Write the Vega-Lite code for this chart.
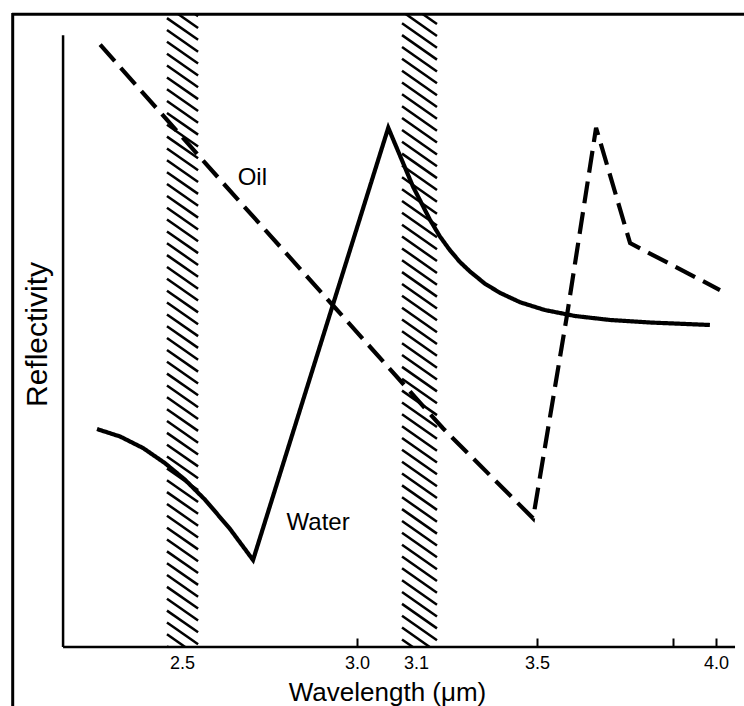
{
  "$schema": "https://vega.github.io/schema/vega-lite/v6.json",
  "width": 732,
  "height": 634,
  "autosize": {"type": "none"},
  "padding": {"left": 12, "top": 13, "right": 0, "bottom": 59},
  "background": "white",
  "config": {"view": {"stroke": null}, "font": "Liberation Sans"},
  "datasets": {
    "curves": [
      {"series": "Water", "wl": 2.257, "r": 34.38},
      {"series": "Water", "wl": 2.323, "r": 33.20},
      {"series": "Water", "wl": 2.389, "r": 31.37},
      {"series": "Water", "wl": 2.451, "r": 29.01},
      {"series": "Water", "wl": 2.509, "r": 26.36},
      {"series": "Water", "wl": 2.566, "r": 23.22},
      {"series": "Water", "wl": 2.637, "r": 18.63},
      {"series": "Water", "wl": 2.703, "r": 13.72},
      {"series": "Water", "wl": 3.053, "r": 81.9},
      {"series": "Water", "wl": 3.095, "r": 72.6},
      {"series": "Water", "wl": 3.146, "r": 67.4},
      {"series": "Water", "wl": 3.179, "r": 64.76},
      {"series": "Water", "wl": 3.212, "r": 62.59},
      {"series": "Water", "wl": 3.245, "r": 60.74},
      {"series": "Water", "wl": 3.279, "r": 59.20},
      {"series": "Water", "wl": 3.328, "r": 57.30},
      {"series": "Water", "wl": 3.378, "r": 55.85},
      {"series": "Water", "wl": 3.444, "r": 54.38},
      {"series": "Water", "wl": 3.522, "r": 53.15},
      {"series": "Water", "wl": 3.606, "r": 52.21},
      {"series": "Water", "wl": 3.704, "r": 51.58},
      {"series": "Water", "wl": 3.816, "r": 51.18},
      {"series": "Water", "wl": 3.983, "r": 50.79},
      {"series": "Oil", "wl": 2.266, "r": 95.0},
      {"series": "Oil", "wl": 2.617, "r": 73.2},
      {"series": "Oil", "wl": 2.931, "r": 53.9},
      {"series": "Oil", "wl": 3.189, "r": 34.5},
      {"series": "Oil", "wl": 3.487, "r": 20.3},
      {"series": "Oil", "wl": 3.584, "r": 52.4},
      {"series": "Oil", "wl": 3.665, "r": 81.9},
      {"series": "Oil", "wl": 3.760, "r": 63.7},
      {"series": "Oil", "wl": 4.011, "r": 56.3}
    ],
    "labels": [
      {"text": "Oil", "wl": 2.701, "r": 74.0},
      {"text": "Water", "wl": 2.889, "r": 19.6}
    ],
    "one": [{}],
    "hatchA": [
      {"r": 102.93}, {"r": 101.06}, {"r": 99.19}, {"r": 97.32}, {"r": 95.45}, {"r": 93.58}, {"r": 91.71}, {"r": 89.84},
      {"r": 87.98}, {"r": 86.11}, {"r": 84.24}, {"r": 82.37}, {"r": 80.50}, {"r": 78.63}, {"r": 76.76}, {"r": 74.89},
      {"r": 73.02}, {"r": 71.15}, {"r": 69.29}, {"r": 67.42}, {"r": 65.55}, {"r": 63.68}, {"r": 61.81}, {"r": 59.94},
      {"r": 58.07}, {"r": 56.20}, {"r": 54.33}, {"r": 52.46}, {"r": 50.60}, {"r": 48.73}, {"r": 46.86}, {"r": 44.99},
      {"r": 43.12}, {"r": 41.25}, {"r": 39.38}, {"r": 37.51}, {"r": 35.64}, {"r": 33.77}, {"r": 31.91}, {"r": 30.04},
      {"r": 28.17}, {"r": 26.30}, {"r": 24.43}, {"r": 22.56}, {"r": 20.69}, {"r": 18.82}, {"r": 16.95}, {"r": 15.08},
      {"r": 13.22}, {"r": 11.35}, {"r": 9.48}, {"r": 7.61}, {"r": 5.74}, {"r": 3.87}, {"r": 2.00}, {"r": 0.13}
    ],
    "hatchB": [
      {"r": 102.12}, {"r": 100.25}, {"r": 98.38}, {"r": 96.51}, {"r": 94.64}, {"r": 92.77}, {"r": 90.90}, {"r": 89.04},
      {"r": 87.17}, {"r": 85.30}, {"r": 83.43}, {"r": 81.56}, {"r": 79.69}, {"r": 77.82}, {"r": 75.95}, {"r": 74.08},
      {"r": 72.21}, {"r": 70.35}, {"r": 68.48}, {"r": 66.61}, {"r": 64.74}, {"r": 62.87}, {"r": 61.00}, {"r": 59.13},
      {"r": 57.26}, {"r": 55.39}, {"r": 53.52}, {"r": 51.66}, {"r": 49.79}, {"r": 47.92}, {"r": 46.05}, {"r": 44.18},
      {"r": 42.31}, {"r": 40.44}, {"r": 38.57}, {"r": 36.70}, {"r": 34.83}, {"r": 32.97}, {"r": 31.10}, {"r": 29.23},
      {"r": 27.36}, {"r": 25.49}, {"r": 23.62}, {"r": 21.75}, {"r": 19.88}, {"r": 18.01}, {"r": 16.14}, {"r": 14.28},
      {"r": 12.41}, {"r": 10.54}, {"r": 8.67}, {"r": 6.80}, {"r": 4.93}, {"r": 3.06}, {"r": 1.19}
    ]
  },
  "layer": [
    {
      "data": {"name": "curves"},
      "mark": {"type": "line", "color": "black", "strokeWidth": 4.2, "strokeCap": "butt", "strokeJoin": "miter"},
      "encoding": {
        "x": {
          "field": "wl",
          "type": "quantitative",
          "scale": {"domain": [2.014, 2.5, 3.0, 3.1, 3.5, 4.0, 4.078], "range": [0, 170, 345, 404, 525, 704, 732], "nice": false, "zero": false},
          "axis": {
            "orient": "bottom",
            "domain": false,
            "grid": false,
            "values": [2.5, 3.0, 3.1, 3.5, 3.88, 4.0],
            "format": ".1f",
            "labelExpr": "datum.value == 3.88 ? '' : datum.label",
            "tickSize": -9,
            "tickWidth": 2,
            "tickColor": "black",
            "tickOpacity": {"condition": {"test": "datum.value == 2.5 || datum.value == 3.1", "value": 0}, "value": 1},
            "labelFont": "Liberation Sans",
            "labelFontSize": 18,
            "labelColor": "black",
            "labelPadding": 16,
            "labelOverlap": false,
            "title": "Wavelength (μm)",
            "titleFont": "Liberation Sans",
            "titleFontSize": 26,
            "titleFontWeight": "normal",
            "titleColor": "black",
            "titleX": 375,
            "titleY": 53,
            "titleBaseline": "alphabetic"
          }
        },
        "y": {
          "field": "r",
          "type": "quantitative",
          "scale": {"domain": [0, 100], "nice": false, "zero": false},
          "axis": {
            "domain": false,
            "ticks": false,
            "labels": false,
            "grid": false,
            "title": "Reflectivity",
            "titleFont": "Liberation Sans",
            "titleFontSize": 30,
            "titleFontWeight": "normal",
            "titleColor": "black",
            "titleX": 34,
            "titleY": 321,
            "titleAngle": 270,
            "titleBaseline": "alphabetic"
          }
        },
        "strokeDash": {
          "field": "series",
          "type": "nominal",
          "scale": {"domain": ["Water", "Oil"], "range": [[1, 0], [22, 9]]},
          "legend": null
        }
      }
    },
    {
      "data": {"name": "hatchA"},
      "mark": {"type": "rule", "color": "black", "strokeWidth": 2.5, "clip": true, "y2Offset": 21.7},
      "encoding": {
        "x": {"datum": 2.457},
        "x2": {"datum": 2.546},
        "y": {"field": "r", "type": "quantitative"},
        "y2": {"field": "r"}
      }
    },
    {
      "data": {"name": "hatchB"},
      "mark": {"type": "rule", "color": "black", "strokeWidth": 2.5, "clip": true, "y2Offset": 24.5},
      "encoding": {
        "x": {"datum": 3.0763},
        "x2": {"datum": 3.1694},
        "y": {"field": "r", "type": "quantitative"},
        "y2": {"field": "r"}
      }
    },
    {
      "data": {"name": "one"},
      "mark": {"type": "rule", "color": "black", "strokeWidth": 3},
      "encoding": {
        "x": {"datum": 2.016},
        "y": {"datum": -9.3},
        "y2": {"datum": 100}
      }
    },
    {
      "data": {"name": "one"},
      "mark": {"type": "rule", "color": "black", "strokeWidth": 3},
      "encoding": {
        "x": {"datum": 2.014},
        "x2": {"datum": 4.078},
        "y": {"datum": 99.8}
      }
    },
    {
      "data": {"name": "one"},
      "mark": {"type": "rule", "color": "black", "strokeWidth": 2.5},
      "encoding": {
        "x": {"datum": 2.16},
        "y": {"datum": 0},
        "y2": {"datum": 96.5}
      }
    },
    {
      "data": {"name": "one"},
      "mark": {"type": "rule", "color": "black", "strokeWidth": 2.5},
      "encoding": {
        "x": {"datum": 2.16},
        "x2": {"datum": 4.053},
        "y": {"datum": 0}
      }
    },
    {
      "data": {"name": "labels"},
      "mark": {"type": "text", "color": "black", "font": "Liberation Sans", "fontSize": 24, "align": "center", "baseline": "middle"},
      "encoding": {
        "x": {"field": "wl", "type": "quantitative"},
        "y": {"field": "r", "type": "quantitative"},
        "text": {"field": "text"}
      }
    }
  ]
}
